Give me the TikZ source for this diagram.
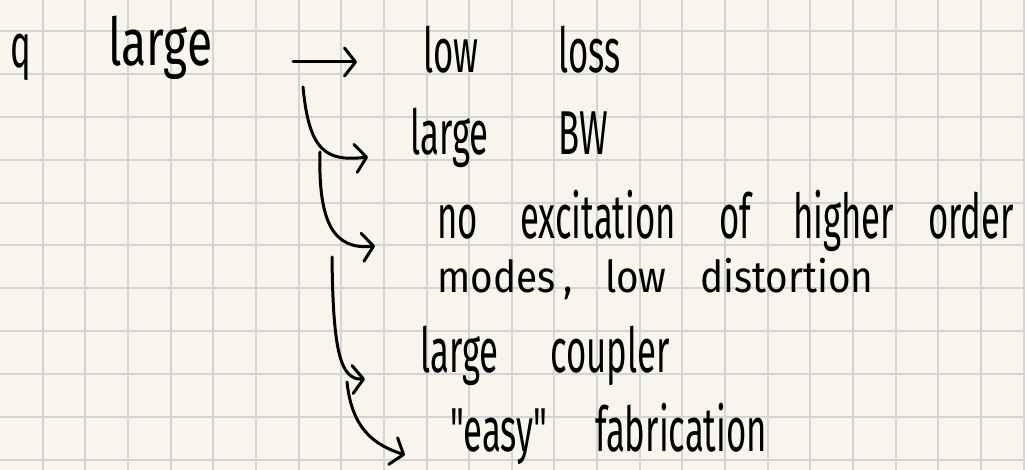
\documentclass[tikz,border=0pt]{standalone}
\usepackage{fontspec}
\newfontfamily\hand[FakeStretch=0.56]{Fira Sans}
\newfontfamily\handwide[FakeStretch=0.88]{Fira Sans}
\newfontfamily\handtitle[FakeStretch=0.7]{Fira Sans}
\usetikzlibrary{arrows.meta}
\definecolor{paper}{HTML}{F8F6EC}
\definecolor{gridline}{HTML}{D4D4D6}
\tikzset{
  word/.style={font=\hand\fontsize{62}{62}\selectfont, anchor=base west, inner sep=0pt},
  small word/.style={word, font=\handwide\fontsize{44}{44}\selectfont},
  title word/.style={word, font=\handtitle\fontsize{66}{66}\selectfont},
  ink/.style={line width=3pt, line cap=round, line join=round},
  hook/.style={ink, -{Straight Barb[length=11pt,width=28pt,round]}},
}
\begin{document}
\begin{tikzpicture}[x=1pt,y=-1pt]
    % paper
    \fill[paper] (0,0) rectangle (1025,470);
    \useasboundingbox (0,0) rectangle (1025,470);

    % grid
    \foreach \i in {1,...,24}
        \draw[gridline, line width=2pt] (42.65*\i,0) -- (42.65*\i,470);
    \foreach \j in {0,...,10}
        \draw[gridline, line width=2pt] (0,31+42.9*\j) -- (1025,31+42.9*\j);

    % q large
    \node[word] (q) at (10,68) {q};
    \node[title word] (large) at (108,66) {large};

    % first row
    \node[word] (low) at (423,73) {low};
    \node[word] (loss) at (558,73) {loss};
    \node[word] (largeBW) at (410,155) {large};
    \node[word] (BW) at (558,155) {BW};

    % higher order modes
    \node[word] (no) at (437,239) {no};
    \node[word] (excitation) at (520,239) {excitation};
    \node[word] (of) at (719,239) {of};
    \node[word] (higher) at (793,239) {higher};
    \node[word] (order) at (928,239) {order};
    \node[small word] (modes) at (437,292) {modes};
    \node[small word] (comma) at (563,292) {,};
    \node[small word] (lowD) at (605,292) {low};
    \node[small word] (distortion) at (700,292) {distortion};

    % coupler, fabrication
    \node[word] (largeC) at (420,372) {large};
    \node[word] (coupler) at (550,372) {coupler};
    \node[word] (easy) at (450,451) {"easy"};
    \node[word] (fabrication) at (595,451) {fabrication};

    % arrows
    \coordinate (a0) at (293,62);
    \coordinate (a1) at (357,62);
    \draw[hook] (a0) -- (a1);

    \coordinate (b0) at (303,87);
    \coordinate (b1) at (368,157);
    \draw[hook] (b0) .. controls (309,150) and (325,162) .. (b1);

    \coordinate (c0) at (320,152);
    \coordinate (c1) at (375,246);
    \draw[hook] (c0) .. controls (318,225) and (335,250) .. (c1);

    \coordinate (d0) at (332,257);
    \coordinate (d1) at (365,379);
    \draw[hook] (d0) .. controls (333,350) and (340,380) .. (d1);

    \coordinate (e0) at (347,382);
    \coordinate (e1) at (405,455);
    \draw[hook] (e0) .. controls (352,430) and (375,445) .. (e1);
\end{tikzpicture}
\end{document}
